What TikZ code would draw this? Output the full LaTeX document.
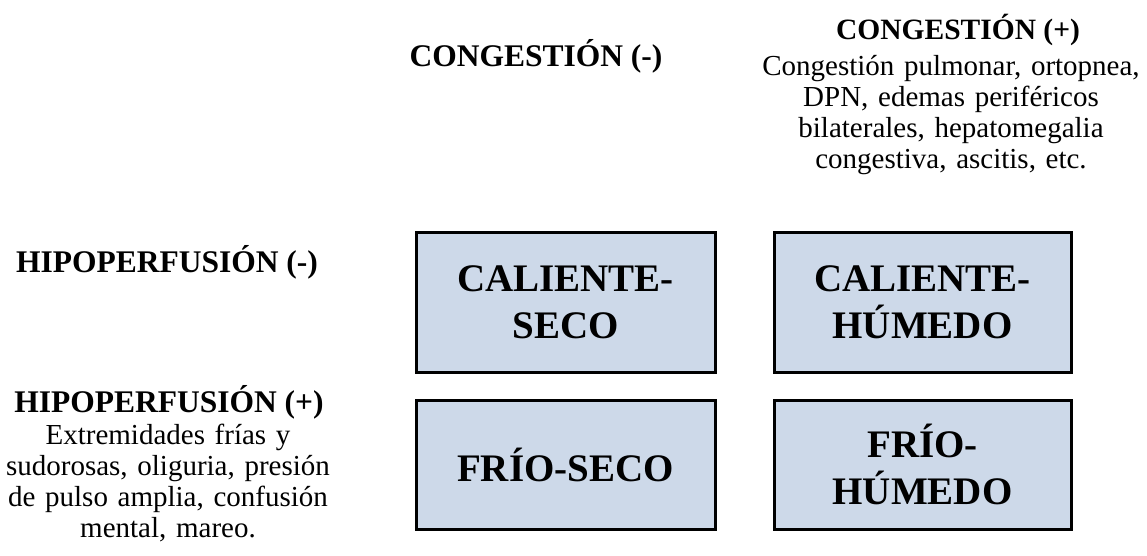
\documentclass[tikz,border=0pt]{standalone}
\usepackage{fontspec}
\setmainfont{Liberation Serif}
\definecolor{boxfill}{RGB}{205,217,233}

\begin{document}
\begin{tikzpicture}[x=1pt,y=-1pt,
    quadrant/.style={draw=black, line width=3pt, fill=boxfill, inner sep=0pt,
        align=center, font=\bfseries\fontsize{39}{47}\selectfont},
    axishead/.style={anchor=base, inner sep=0pt, font=\bfseries\fontsize{31.5}{32}\selectfont},
    axisnote/.style={anchor=base, inner sep=0pt, align=center, text width=#1,
        font=\fontsize{29}{31}\selectfont}]
    \useasboundingbox (0,0) rectangle (1147,556);

    % draw the column headers
    \node[axishead] (congneg) at (536,67) {CONGESTIÓN (-)};
    \node[axishead, font=\bfseries\fontsize{29.5}{30}\selectfont] (congpos) at (958,40) {CONGESTIÓN (+)};
    \node[axisnote=390pt] (congnote) at (951,76)
        {Congestión pulmonar, ortopnea,\\ DPN, edemas periféricos\\ bilaterales, hepatomegalia\\ congestiva, ascitis, etc.};

    % draw the row headers
    \node[axishead] (hiponeg) at (167,272) {HIPOPERFUSIÓN (-)};
    \node[axishead] (hipopos) at (169,412) {HIPOPERFUSIÓN (+)};
    \node[axisnote=340pt] (hiponote) at (168,444)
        {Extremidades frías y\\ sudorosas, oliguria, presión\\ de pulso amplia, confusión\\ mental, mareo.};

    % draw the four quadrants
    \node[quadrant, minimum width=299pt, minimum height=140pt] (calseco) at (565.5,302) {CALIENTE-\\SECO};
    \node[quadrant, minimum width=297pt, minimum height=140pt] (calhum) at (922.5,302) {CALIENTE-\\HÚMEDO};
    \node[quadrant, minimum width=299pt, minimum height=129pt] (friseco) at (565.5,464.5) {FRÍO-SECO};
    \node[quadrant, minimum width=297pt, minimum height=129pt] (frihum) at (922.5,464.5) {FRÍO-\\HÚMEDO};
\end{tikzpicture}
\end{document}
